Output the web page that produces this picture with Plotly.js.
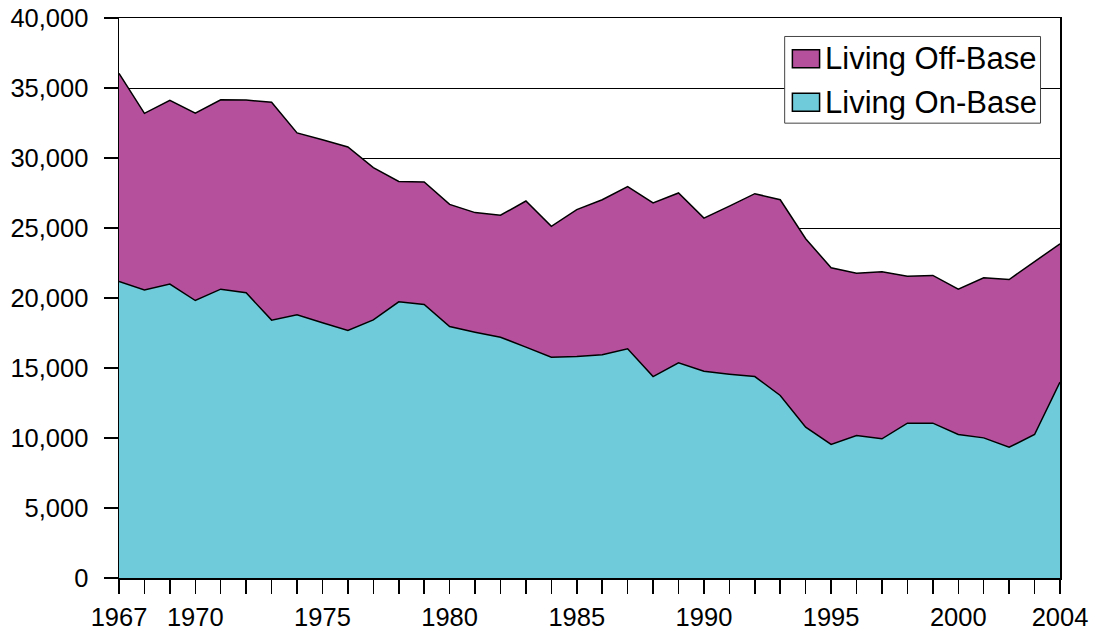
<!DOCTYPE html>
<html>
<head>
<meta charset="utf-8">
<script src="https://cdn.plot.ly/plotly-3.0.1.min.js"></script>
<style>html,body{margin:0;padding:0;background:#fff;}#chart{width:1095px;height:631px;}</style>
</head>
<body>
<div id="chart"></div>
<script>
var years = [1967,1968,1969,1970,1971,1972,1973,1974,1975,1976,1977,1978,1979,1980,1981,1982,1983,1984,1985,1986,1987,1988,1989,1990,1991,1992,1993,1994,1995,1996,1997,1998,1999,2000,2001,2002,2003,2004];
var onBase = [21180,20580,20990,19820,20630,20370,18420,18800,18230,17680,18440,19730,19540,17960,17560,17200,16490,15770,15820,15940,16370,14390,15370,14770,14560,14390,13040,10770,9540,10180,9940,11060,11060,10250,10010,9340,10250,13990];
var offBase = [14870,12610,13130,13390,13530,13770,15560,12990,13080,13110,10870,8600,8750,8730,8540,8710,10440,9350,10490,11080,11580,12400,12130,10940,12000,13060,13980,13460,12620,11590,11930,10500,10550,10380,11430,11980,12350,9880];
var labelledYears = [1967,1970,1975,1980,1985,1990,1995,2000,2004];
var seriesNames = ["Living Off-Base", "Living On-Base"];
var colorOff = "#B5509D";
var colorOn = "#6FCBD9";

var tickText = years.map(function(y){ return labelledYears.indexOf(y) >= 0 ? String(y) : ""; });

var traces = [
  {x: years, y: onBase, name: seriesNames[1], type: "scatter", mode: "lines", stackgroup: "one",
   line: {color: "#000", width: 1.5}, fillcolor: colorOn, hoverinfo: "x+y"},
  {x: years, y: offBase, name: seriesNames[0], type: "scatter", mode: "lines", stackgroup: "one",
   line: {color: "#000", width: 1.5}, fillcolor: colorOff, hoverinfo: "x+y"}
];

var FONT = "Liberation Sans, Arial, sans-serif";
var legFont = {family: FONT, size: 31, color: "#000"};
var tickFont = {family: FONT, size: 25.5, color: "#000"};

var layout = {
  width: 1095, height: 631,
  margin: {l: 119, r: 34.5, t: 17.5, b: 53, pad: 0},
  paper_bgcolor: "#fff", plot_bgcolor: "#fff",
  showlegend: false,
  font: {family: FONT, size: 25.5, color: "#000"},
  xaxis: {
    type: "linear", range: [1967, 2004],
    tickmode: "array", tickvals: years, ticktext: tickText,
    ticks: "outside", ticklen: 14, tickwidth: 1.5, tickcolor: "#000",
    ticklabelstandoff: 2,
    showline: true, linecolor: "#000", linewidth: 1.5, mirror: true,
    showgrid: false, zeroline: false,
    tickfont: tickFont
  },
  yaxis: {
    range: [0, 40000], dtick: 5000, tick0: 0, tickformat: ",d",
    ticks: "outside", ticklen: 14, tickwidth: 1.5, tickcolor: "#000",
    ticklabelstandoff: 10,
    showline: true, linecolor: "#000", linewidth: 1.5, mirror: true,
    showgrid: true, gridcolor: "#000", gridwidth: 1, zeroline: false,
    tickfont: tickFont
  },
  shapes: [
    {type: "rect", xref: "paper", yref: "paper", x0: 0.7074, x1: 0.9793, y0: 0.8122, y1: 0.967,
     fillcolor: "#fff", line: {color: "#444", width: 1}, layer: "above"},
    {type: "rect", xref: "paper", yref: "paper", x0: 0.7156, x1: 0.7445, y0: 0.9112, y1: 0.9433,
     fillcolor: colorOff, line: {color: "#000", width: 1.5}, layer: "above"},
    {type: "rect", xref: "paper", yref: "paper", x0: 0.7156, x1: 0.7445, y0: 0.8337, y1: 0.8658,
     fillcolor: colorOn, line: {color: "#000", width: 1.5}, layer: "above"}
  ],
  annotations: [
    {xref: "paper", yref: "paper", x: 0.7478, y: 0.9273, xanchor: "left", yanchor: "middle",
     text: seriesNames[0], showarrow: false, font: legFont},
    {xref: "paper", yref: "paper", x: 0.7478, y: 0.8498, xanchor: "left", yanchor: "middle",
     text: seriesNames[1], showarrow: false, font: legFont}
  ]
};

Plotly.newPlot("chart", traces, layout, {displayModeBar: false, staticPlot: true});
</script>
</body>
</html>
